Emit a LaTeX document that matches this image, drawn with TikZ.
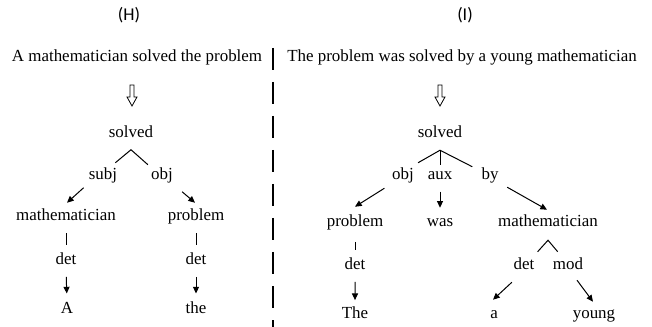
\documentclass[tikz,border=0pt]{standalone}
\usepackage{fontspec}
\setmainfont{Liberation Serif}
\newfontfamily\tagfont{Carlito}
\usetikzlibrary{arrows.meta, calc}
\newcommand\wordfont{\rmfamily\fontsize{12.7}{15}\selectfont}
\tikzset{
  word/.style={font=\wordfont, inner sep=0pt, anchor=base, text height=8.25pt, text depth=2.6pt},
  tag/.style={font=\tagfont\fontsize{13.5}{16}\selectfont, inner sep=0pt},
  link/.style={line width=0.75pt},
  arr/.style={line width=0.75pt, -{Triangle[length=5pt,width=4.5pt]}},
  hollowdown/.pic={\draw[line width=0.6pt] (-2,0) -- (-2,12) -- (-5,12) -- (0,21) -- (5,12) -- (2,12) -- (2,0) -- cycle;}
}

\begin{document}
\begin{tikzpicture}[x=0.75pt, y=-0.75pt]
\useasboundingbox (0,0) rectangle (652,327);
\node (tagH) at (129,15) [tag] {(H)};
\node (tagI) at (465,15) [tag] {(I)};
\node (sentH) at (137,62) [word] {A mathematician solved the problem};
\node (sentI) at (462,62) [word] {The problem was solved by a young mathematician};
\draw [line width=2.2pt, dash pattern=on 16.5pt off 9pt] (273,48) -- (273,327);
\pic at (132,85) {hollowdown};
\pic at (440,85) {hollowdown};

\node (solvedH) at (131,138) [word] {solved};
\node (subjH) at (103,180) [word] {subj};
\node (objH) at (162,180) [word] {obj};
\node (mathH) at (66,221) [word] {mathematician};
\node (probH) at (196,221) [word] {problem};
\node (detHa) at (66,265) [word] {det};
\node (detHb) at (196,265) [word] {det};
\node (aH) at (67,313) [word] {A};
\node (theH) at (196,313) [word] {the};
\coordinate (topH) at ($(solvedH.south)+(0,8)$);
\draw [link] ($(subjH.north east)+(-2,-6)$) -- (topH) -- ($(objH.north west)+(-3,-4)$);
\draw [arr] ($(subjH.south west)+(-5,4)$) -- ($(mathH.north)+(1,-7)$);
\draw [arr] ($(objH.south east)+(9,8)$) -- ($(probH.north)+(-1,-7)$);
\draw [link] ($(mathH.south)!0.3!(detHa.north)$) -- ($(mathH.south)!0.7!(detHa.north)$);
\draw [link] ($(probH.south)!0.3!(detHb.north)$) -- ($(probH.south)!0.7!(detHb.north)$);
\draw [arr] ($(detHa.south)!0.25!(aH.north)$) -- ($(detHa.south)!0.75!(aH.north)$);
\draw [arr] ($(detHb.south)!0.25!(theH.north)$) -- ($(detHb.south)!0.75!(theH.north)$);

\node (solvedI) at (440,138) [word] {solved};
\node (objI) at (403,180) [word] {obj};
\node (auxI) at (440,180) [word] {aux};
\node (byI) at (490,180) [word] {by};
\node (probI) at (355,227) [word] {problem};
\node (wasI) at (440,227) [word] {was};
\node (mathI) at (548,227) [word] {mathematician};
\node (detIa) at (355,270) [word] {det};
\node (detIb) at (524,270) [word] {det};
\node (modI) at (568,270) [word] {mod};
\node (theI) at (355,318) [word] {The};
\node (aI) at (494,318) [word] {a};
\node (youngI) at (594,318) [word] {young};
\coordinate (topI) at ($(solvedI.south)+(0,8.5)$);
\draw [link] ($(objI.north east)+(4,-6)$) -- (topI) -- ($(byI.north west)+(-9,-2)$);
\draw [link] (topI) -- ($(auxI.north)+(0,-4)$);
\draw [arr] ($(objI.south west)+(-7.5,4.5)$) -- ($(probI.north)+(0,-9)$);
\draw [arr] ($(auxI.south)!0.25!(wasI.north)$) -- ($(auxI.south)!0.75!(wasI.north)$);
\draw [arr] ($(byI.south east)+(8.5,3.5)$) -- ($(mathI.north)+(-1,-6)$);
\draw [link] ($(probI.south)!0.4!(detIa.north)$) -- ($(probI.south)!0.7!(detIa.north)$);
\draw [arr] ($(detIa.south)!0.25!(theI.north)$) -- ($(detIa.south)!0.8!(theI.north)$);
\coordinate (capI) at ($(mathI.south)+(0,9.5)$);
\draw [link] ($(detIb.north east)+(3,-7)$) -- (capI) -- ($(modI.north west)+(5,-7)$);
\draw [arr] ($(detIb.south west)+(-1.5,8.5)$) -- ($(aI.north)+(-1,-7)$);
\draw [arr] ($(modI.south)+(9,6.5)$) -- ($(youngI.north)+(-1,-5)$);
\end{tikzpicture}
\end{document}
